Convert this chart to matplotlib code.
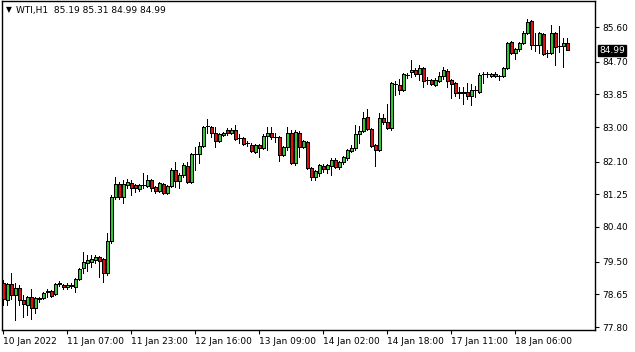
import matplotlib
matplotlib.use("Agg")
import matplotlib.pyplot as plt
import numpy as np

symbol = "WTI,H1"
header_values = "85.19 85.31 84.99 84.99"

opens = [78.94, 78.50, 78.92, 78.63, 78.81, 78.50, 78.37, 78.58, 78.29, 78.53,
         78.55, 78.71, 78.74, 78.66, 78.92, 78.89, 78.84, 78.87, 78.84, 79.05,
         79.33, 79.46, 79.49, 79.54, 79.62, 79.57, 79.20, 80.04, 81.18, 81.52,
         81.18, 81.49, 81.54, 81.49, 81.39, 81.49, 81.47, 81.62, 81.44, 81.34,
         81.52, 81.28, 81.47, 81.88, 81.60, 81.75, 81.99, 81.57, 82.30, 82.30,
         82.51, 83.03, 83.00, 82.84, 82.64, 82.79, 82.92, 82.84, 82.92, 82.71,
         82.71, 82.58, 82.53, 82.35, 82.53, 82.45, 82.77, 82.84, 82.74, 82.74,
         82.27, 82.48, 82.84, 82.06, 82.84, 82.48, 82.61, 81.93, 81.70, 81.80,
         81.99, 81.91, 81.99, 82.14, 81.96, 82.09, 82.19, 82.38, 82.45, 82.82,
         82.90, 83.26, 82.95, 82.53, 82.40, 83.23, 83.13, 82.97, 84.12, 84.09,
         83.96, 84.35, 84.43, 84.48, 84.38, 84.53, 84.22, 84.22, 84.09, 84.20,
         84.33, 84.46, 84.22, 84.14, 83.91, 83.88, 83.91, 83.81, 83.96, 83.91,
         84.38, 84.38, 84.33, 84.33, 84.33, 84.33, 84.53, 85.21, 84.92, 85.03,
         85.18, 85.44, 85.76, 85.13, 85.13, 85.42, 84.92, 84.92, 85.44, 85.11,
         85.11, 85.19]
highs = [79.02, 78.94, 79.20, 78.94, 78.89, 78.63, 78.61, 78.79, 78.58, 78.58,
         78.71, 78.79, 78.76, 78.94, 79.00, 78.92, 78.94, 78.94, 79.07, 79.33,
         79.75, 79.67, 79.67, 79.67, 79.65, 79.59, 80.24, 81.23, 81.70, 81.57,
         81.62, 81.65, 81.62, 81.52, 81.52, 81.80, 81.75, 81.65, 81.47, 81.57,
         81.54, 81.49, 81.93, 82.09, 81.80, 82.06, 82.09, 82.32, 82.48, 82.61,
         83.03, 83.21, 83.03, 83.00, 82.84, 82.87, 82.97, 82.97, 83.05, 82.82,
         82.74, 82.64, 82.58, 82.56, 82.56, 82.82, 83.00, 83.00, 82.84, 82.77,
         82.51, 83.00, 82.92, 82.92, 82.90, 82.66, 82.64, 81.96, 81.88, 82.04,
         82.04, 82.04, 82.19, 82.19, 82.12, 82.25, 82.43, 82.53, 83.05, 83.03,
         83.39, 83.47, 82.97, 82.56, 83.36, 83.34, 83.60, 84.17, 84.20, 84.25,
         84.40, 84.40, 84.74, 84.53, 84.61, 84.56, 84.30, 84.25, 84.27, 84.43,
         84.56, 84.51, 84.25, 84.17, 84.04, 84.04, 84.14, 84.12, 84.07, 84.40,
         84.43, 84.43, 84.40, 84.43, 84.35, 84.56, 85.21, 85.24, 85.05, 85.21,
         85.50, 85.81, 85.78, 85.44, 85.47, 85.44, 85.00, 85.65, 85.47, 85.63,
         85.31, 85.31]
lows = [78.37, 78.37, 78.53, 77.98, 78.37, 78.06, 78.11, 78.01, 78.16, 78.45,
        78.53, 78.58, 78.58, 78.63, 78.87, 78.79, 78.79, 78.81, 78.71, 79.02,
        79.20, 79.26, 79.36, 79.46, 79.10, 78.97, 79.15, 79.98, 81.13, 81.13,
        81.02, 81.41, 81.23, 81.31, 81.34, 81.41, 81.44, 81.34, 81.28, 81.31,
        81.26, 81.26, 81.44, 81.44, 81.41, 81.70, 81.54, 81.54, 81.88, 82.06,
        82.48, 82.84, 82.74, 82.48, 82.61, 82.77, 82.79, 82.82, 82.66, 82.58,
        82.53, 82.51, 82.35, 82.32, 82.22, 82.43, 82.40, 82.69, 82.61, 82.12,
        82.25, 82.40, 82.04, 82.01, 82.22, 82.45, 81.91, 81.62, 81.62, 81.73,
        81.83, 81.80, 81.75, 81.93, 81.91, 82.04, 82.14, 82.35, 82.40, 82.58,
        82.87, 82.92, 82.48, 81.99, 82.38, 83.08, 82.95, 82.92, 83.83, 83.86,
        83.94, 84.27, 84.30, 84.33, 84.22, 84.04, 84.12, 84.09, 84.07, 84.17,
        84.25, 84.04, 83.75, 83.81, 83.75, 83.60, 83.73, 83.57, 83.78, 83.88,
        84.14, 84.30, 84.30, 84.30, 84.22, 84.30, 84.51, 84.90, 84.77, 84.98,
        85.16, 85.42, 85.03, 84.98, 84.92, 84.87, 84.82, 84.90, 84.61, 84.95,
        84.56, 84.99]
closes = [78.53, 78.92, 78.63, 78.81, 78.50, 78.40, 78.58, 78.29, 78.55, 78.55,
          78.68, 78.74, 78.61, 78.92, 78.94, 78.84, 78.89, 78.89, 79.05, 79.31,
          79.49, 79.54, 79.57, 79.62, 79.52, 79.20, 80.04, 81.18, 81.52, 81.18,
          81.52, 81.57, 81.41, 81.41, 81.49, 81.49, 81.62, 81.41, 81.34, 81.54,
          81.28, 81.47, 81.88, 81.60, 81.75, 82.01, 81.57, 82.30, 82.30, 82.51,
          83.00, 83.03, 82.84, 82.64, 82.82, 82.84, 82.84, 82.92, 82.69, 82.71,
          82.56, 82.58, 82.38, 82.53, 82.45, 82.77, 82.84, 82.74, 82.74, 82.27,
          82.48, 82.84, 82.06, 82.87, 82.48, 82.64, 81.93, 81.70, 81.86, 82.01,
          81.91, 82.01, 82.14, 81.96, 82.09, 82.22, 82.40, 82.45, 82.82, 82.90,
          83.23, 82.95, 82.51, 82.40, 83.23, 83.13, 82.97, 84.14, 84.12, 83.96,
          84.38, 84.35, 84.48, 84.38, 84.53, 84.20, 84.22, 84.12, 84.22, 84.33,
          84.48, 84.20, 84.12, 83.88, 83.88, 83.91, 83.81, 83.96, 83.96, 84.35,
          84.38, 84.38, 84.38, 84.38, 84.33, 84.53, 85.18, 84.92, 85.03, 85.18,
          85.44, 85.73, 85.13, 85.13, 85.44, 84.90, 84.92, 85.44, 85.08, 85.11,
          85.18, 84.99]

y_ticks = [77.80, 78.65, 79.50, 80.40, 81.25, 82.10, 83.00, 83.85, 84.70, 85.60]
x_tick_bars = [0, 16, 32, 48, 64, 80, 96, 112, 128]
x_tick_labels = ["10 Jan 2022", "11 Jan 07:00", "11 Jan 23:00", "12 Jan 16:00",
                 "13 Jan 09:00", "14 Jan 02:00", "14 Jan 18:00", "17 Jan 11:00",
                 "18 Jan 06:00"]
last_price = "84.99"

W, H = 635, 352
fig = plt.figure(figsize=(W / 100, H / 100), dpi=100)
fig.patch.set_facecolor("white")
ax_l, ax_r, ax_t, ax_b = 2, 595, 1, 330
ax = fig.add_axes([ax_l / W, 1 - ax_b / H, (ax_r - ax_l) / W, (ax_b - ax_t) / H])
ax.set_facecolor("white")

o = np.array(opens); h = np.array(highs); l = np.array(lows); c = np.array(closes)
x = np.arange(len(o))
up_col = "#32c832"
dn_col = "#e01010"

ax.vlines(x, l, h, color="black", linewidth=0.5, zorder=2, antialiased=False)
doji = np.abs(c - o) < 0.015
bodies = ~doji
cols = np.where(c >= o, up_col, dn_col)
ax.bar(x[bodies], (c - o)[bodies], bottom=o[bodies], width=0.68,
       color=cols[bodies], edgecolor="black", linewidth=0.5, zorder=3,
       antialiased=False)
ax.hlines((o + c)[doji] / 2, x[doji] - 0.38, x[doji] + 0.38, color="black",
          linewidth=0.5, zorder=3, antialiased=False)

px_per_bar = 4.0
xmin = -(3.3 - ax_l) / px_per_bar
xmax = xmin + (ax_r - ax_l) / px_per_bar
ax.set_xlim(xmin, xmax)
ymin = 86.302 - 0.026 * ax_b
ymax = 86.302 - 0.026 * ax_t
ax.set_ylim(ymin, ymax)

for s in ax.spines.values():
    s.set_color("black")
    s.set_linewidth(1.0)

ax.yaxis.tick_right()
ax.set_yticks(y_ticks)
ax.set_yticklabels([f"{v:.2f}" for v in y_ticks])
ax.tick_params(axis="y", direction="out", length=3, width=0.8, pad=2,
               labelsize=6.5, colors="black")
ax.set_xticks(x_tick_bars)
ax.set_xticklabels(x_tick_labels)
ax.tick_params(axis="x", direction="out", length=3, width=0.8, pad=2,
               labelsize=6.5, colors="black")
for lab in ax.get_xticklabels():
    lab.set_horizontalalignment("left")

ax.annotate(last_price, xy=(1.0, c[-1]), xycoords=("axes fraction", "data"),
            xytext=(3, 0), textcoords="offset points", va="center", ha="left",
            fontsize=6.5, color="white",
            bbox=dict(boxstyle="square,pad=0.15", fc="black", ec="black"))

fig.text(6 / W, 1 - 10 / H, "\u25BC", fontsize=5.5, va="center", ha="left", color="black")
fig.text(16 / W, 1 - 10 / H, f"{symbol}  {header_values}", fontsize=6.5,
         va="center", ha="left", color="black")

fig.savefig("out.png", dpi=100, facecolor="white")
